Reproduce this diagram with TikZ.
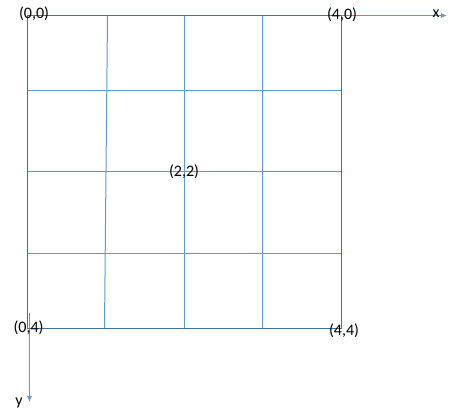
\documentclass[tikz,border=0pt]{standalone}
\usepackage{fontspec}
\setmainfont{Carlito}
\usetikzlibrary{arrows.meta}
\definecolor{darkedge}{HTML}{41719C}
\definecolor{lightline}{HTML}{5B9BD5}
\begin{document}
\begin{tikzpicture}[x=1pt,y=-1pt,
  edge/.style={draw=darkedge,line width=1pt},
  gridline/.style={draw=lightline,line width=1pt},
  axis/.style={draw=lightline,line width=1pt,-{Latex[length=6pt,width=5pt]}},
  lbl/.style={font=\fontsize{16}{18}\selectfont,inner sep=0pt}]
\useasboundingbox[fill=white] (0,0) rectangle (470,417);
% corners
\coordinate (tl) at (27.5,15.5);
\coordinate (tr) at (341.5,15.5);
\coordinate (bl) at (27.5,328.5);
\coordinate (br) at (341.5,328.5);
% grid line ends
\coordinate (v1t) at (107.5,15.5); \coordinate (v1b) at (104.5,328.5);
\coordinate (v2t) at (184.5,15.5); \coordinate (v2b) at (184.5,328.5);
\coordinate (v3t) at (262.5,15.5); \coordinate (v3b) at (262.5,328.5);
\coordinate (h1l) at (27.5,90.5);  \coordinate (h1r) at (341.5,90.5);
\coordinate (h2l) at (27.5,171.5); \coordinate (h2r) at (341.5,171.5);
\coordinate (h3l) at (27.5,253.5); \coordinate (h3r) at (341.5,253.5);
% axes ends
\coordinate (xend) at (447,15.5);
\coordinate (ystart) at (29.5,313);
\coordinate (yend) at (29.5,402);
% grid
\draw[gridline] (v1t) -- (v1b);
\draw[gridline] (v2t) -- (v2b);
\draw[gridline] (v3t) -- (v3b);
\draw[gridline] (h1l) -- (h1r);
\draw[gridline] (h2l) -- (h2r);
\draw[gridline] (h3l) -- (h3r);
% border
\draw[edge] (tl) -- (tr) -- (br) -- (bl) -- cycle;
% axes
\draw[axis] (tr) -- (xend);
\draw[axis] (ystart) -- (yend);
% labels
\node[lbl] (l00) at (34,14) {(0,0)};
\node[lbl] (l40) at (342,15) {(4,0)};
\node[lbl] (lx) at (436,14) {x};
\node[lbl] (l04) at (28.5,328) {(0,4)};
\node[lbl] (l44) at (344,331) {(4,4)};
\node[lbl] (l22) at (184,172) {(2,2)};
\node[lbl] (ly) at (19,403) {y};
\end{tikzpicture}
\end{document}
